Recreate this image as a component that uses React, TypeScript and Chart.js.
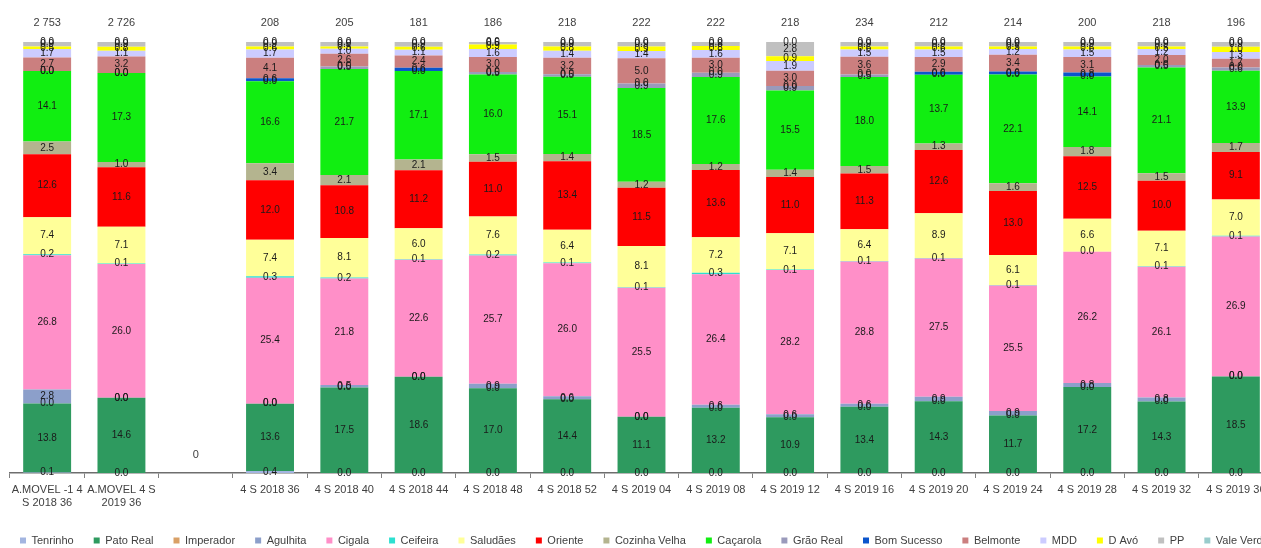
import React, { useEffect, useRef } from "react";
import { Chart, registerables } from "chart.js";

Chart.register(...registerables);

// Period labels (multi-line where the axis wraps them)
const categories: (string | string[])[] = [
  ["A.MOVEL -1 4", "S 2018 36"],
  ["A.MOVEL 4 S", "2019 36"],
  "",
  "4 S 2018 36",
  "4 S 2018 40",
  "4 S 2018 44",
  "4 S 2018 48",
  "4 S 2018 52",
  "4 S 2019 04",
  "4 S 2019 08",
  "4 S 2019 12",
  "4 S 2019 16",
  "4 S 2019 20",
  "4 S 2019 24",
  "4 S 2019 28",
  "4 S 2019 32",
  "4 S 2019 36",
];

// Base totals printed above each column
const totals = [2753, 2726, 0, 208, 205, 181, 186, 218, 222, 222, 218, 234, 212, 214, 200, 218, 196];

// Shares (%) per brand, stacked bottom to top
const tenrinho = [0.1, 0.0, null, 0.4, 0.0, 0.0, 0.0, 0.0, 0.0, 0.0, 0.0, 0.0, 0.0, 0.0, 0.0, 0.0, 0.0];
const patoReal = [13.8, 14.6, null, 13.6, 17.5, 18.6, 17.0, 14.4, 11.1, 13.2, 10.9, 13.4, 14.3, 11.7, 17.2, 14.3, 18.5];
const imperador = [0.0, 0.0, null, 0.0, 0.0, 0.0, 0.0, 0.0, 0.0, 0.0, 0.0, 0.0, 0.0, 0.0, 0.0, 0.0, 0.0];
const agulhita = [2.8, 0.0, null, 0.0, 0.5, 0.0, 0.9, 0.6, 0.0, 0.6, 0.6, 0.6, 0.9, 0.9, 0.8, 0.8, 0.0];
const cigala = [26.8, 26.0, null, 25.4, 21.8, 22.6, 25.7, 26.0, 25.5, 26.4, 28.2, 28.8, 27.5, 25.5, 26.2, 26.1, 26.9];
const ceifeira = [0.2, 0.1, null, 0.3, 0.2, 0.1, 0.2, 0.1, 0.1, 0.3, 0.1, 0.1, 0.1, 0.1, 0.0, 0.1, 0.1];
const saludaes = [7.4, 7.1, null, 7.4, 8.1, 6.0, 7.6, 6.4, 8.1, 7.2, 7.1, 6.4, 8.9, 6.1, 6.6, 7.1, 7.0];
const oriente = [12.6, 11.6, null, 12.0, 10.8, 11.2, 11.0, 13.4, 11.5, 13.6, 11.0, 11.3, 12.6, 13.0, 12.5, 10.0, 9.1];
const cozinhaVelha = [2.5, 1.0, null, 3.4, 2.1, 2.1, 1.5, 1.4, 1.2, 1.2, 1.4, 1.5, 1.3, 1.6, 1.8, 1.5, 1.7];
const cacarola = [14.1, 17.3, null, 16.6, 21.7, 17.1, 16.0, 15.1, 18.5, 17.6, 15.5, 18.0, 13.7, 22.1, 14.1, 21.1, 13.9];
const graoReal = [0.0, 0.0, null, 0.0, 0.5, 0.0, 0.5, 0.5, 0.9, 0.9, 0.9, 0.5, 0.0, 0.0, 0.0, 0.5, 0.6];
const bomSucesso = [0.0, 0.0, null, 0.6, 0.0, 0.6, 0.0, 0.0, 0.0, 0.0, 0.0, 0.0, 0.6, 0.6, 0.8, 0.0, 0.0];
const belmonte = [2.7, 3.2, null, 4.1, 2.6, 2.4, 3.0, 3.2, 5.0, 3.0, 3.0, 3.6, 2.9, 3.4, 3.1, 2.0, 1.7];
const mdd = [1.7, 1.1, null, 1.7, 1.0, 1.1, 1.6, 1.4, 1.4, 1.6, 1.9, 1.5, 1.5, 1.2, 1.5, 1.2, 1.3];
const dAvo = [0.5, 0.8, null, 0.6, 0.5, 0.6, 0.9, 0.8, 0.9, 0.8, 0.9, 0.6, 0.6, 0.5, 0.6, 0.5, 1.0];
const pp = [0.9, 0.9, null, 0.9, 0.9, 0.9, 0.5, 0.9, 0.9, 0.8, 2.8, 0.9, 0.9, 0.9, 0.9, 0.9, 0.9];
const valeVerde = [0.0, 0.0, null, 0.0, 0.0, 0.0, 0.0, 0.0, 0.0, 0.0, 0.0, 0.0, 0.0, 0.0, 0.0, 0.0, 0.0];

const seriesNames = [
  "Tenrinho", "Pato Real", "Imperador", "Agulhita", "Cigala", "Ceifeira", "Saludães", "Oriente",
  "Cozinha Velha", "Caçarola", "Grão Real", "Bom Sucesso", "Belmonte", "MDD", "D Avó", "PP", "Vale Verde",
];
const seriesValues = [
  tenrinho, patoReal, imperador, agulhita, cigala, ceifeira, saludaes, oriente,
  cozinhaVelha, cacarola, graoReal, bomSucesso, belmonte, mdd, dAvo, pp, valeVerde,
];
const seriesColors = [
  "#a3b5e0", "#2e9a5f", "#d9a066", "#8c9fca", "#ff8fc8", "#2de0d0", "#ffff99", "#ff0000",
  "#b4b48f", "#11ee11", "#9a9abb", "#0b55cc", "#cb7f7f", "#ccccff", "#ffff00", "#c0c0c0", "#99cccc",
];

const FONT = "'Liberation Sans', Arial, sans-serif";

// Column sums, so each column is drawn as a 100% stack of its shares
const columnSums = categories.map((_, i) =>
  seriesValues.reduce((s, arr) => s + (arr[i] ?? 0), 0)
);

const formatThousands = (n: number) => String(n).replace(/\B(?=(\d{3})+(?!\d))/g, " ");

// Value label centred in every stacked segment
const segmentLabels = {
  id: "segmentLabels",
  afterDatasetsDraw(chart: Chart) {
    const ctx = chart.ctx;
    ctx.save();
    ctx.font = `10px ${FONT}`;
    ctx.fillStyle = "#1a1a1a";
    ctx.textAlign = "center";
    ctx.textBaseline = "middle";
    chart.data.datasets.forEach((_ds: any, di: number) => {
      const meta = chart.getDatasetMeta(di);
      meta.data.forEach((el: any, i: number) => {
        const raw = seriesValues[di][i];
        if (raw === null || raw === undefined || columnSums[i] === 0) return;
        const { x, y, base } = el.getProps(["x", "y", "base"], true);
        ctx.fillText(raw.toFixed(1), x, (y + base) / 2);
      });
    });
    ctx.restore();
  },
};

// Sample size above each column (or at the floor for an empty one)
const totalLabels = {
  id: "totalLabels",
  afterDatasetsDraw(chart: Chart) {
    const ctx = chart.ctx;
    const xScale = chart.scales.x;
    const area = chart.chartArea;
    ctx.save();
    ctx.font = `11px ${FONT}`;
    ctx.fillStyle = "#404040";
    ctx.textAlign = "center";
    ctx.textBaseline = "middle";
    totals.forEach((t, i) => {
      const x = xScale.getPixelForValue(i);
      const txt = formatThousands(t);
      if (t > 0) ctx.fillText(txt, x, area.top - 19);
      else ctx.fillText(txt, x, area.bottom - 18);
    });
    ctx.restore();
  },
};

const CANVAS_W = 1310;
const CANVAS_H = 556;

export default function App() {
  const canvasRef = useRef<HTMLCanvasElement | null>(null);

  useEffect(() => {
    if (!canvasRef.current) return;
    const datasets = seriesNames.map((name, di) => ({
      label: name,
      data: seriesValues[di].map((v, i) =>
        v === null || columnSums[i] === 0 ? null : (v / columnSums[i]) * 100
      ),
      backgroundColor: seriesColors[di],
      borderWidth: 0,
      categoryPercentage: 1,
      barPercentage: 0.645,
    }));

    const hiddenAxis = (w: number, position: "left" | "right") => ({
      position,
      display: true,
      grid: { display: false, drawTicks: false },
      border: { display: false },
      ticks: { display: false },
      afterFit: (scale: any) => {
        scale.width = w;
      },
    });

    const chart = new Chart(canvasRef.current, {
      type: "bar",
      data: { labels: categories, datasets },
      options: {
        responsive: false,
        animation: false,
        layout: { padding: { top: 42, left: 0, right: 0, bottom: 0 } },
        plugins: {
          legend: {
            position: "bottom",
            align: "start",
            labels: {
              boxWidth: 6,
              boxHeight: 6,
              padding: 20,
              color: "#404040",
              font: { family: FONT, size: 11 },
            },
          },
          tooltip: { enabled: false },
        },
        scales: {
          x: {
            stacked: true,
            grid: {
              display: true,
              drawOnChartArea: false,
              drawTicks: true,
              tickLength: 5,
              color: "#808080",
              offset: true,
            },
            border: { display: true, color: "#6e6e6e", width: 1.5 },
            ticks: {
              autoSkip: false,
              maxRotation: 0,
              minRotation: 0,
              padding: 5,
              color: "#404040",
              font: { family: FONT, size: 11 },
            },
            afterFit: (scale: any) => {
              scale.height = 42;
            },
          },
          y: {
            stacked: true,
            min: 0,
            max: 100,
            ...hiddenAxis(10, "left"),
          },
          yRight: {
            min: 0,
            max: 100,
            ...hiddenAxis(CANVAS_W - 1273, "right"),
          },
        },
      },
      plugins: [segmentLabels, totalLabels],
    });
    return () => chart.destroy();
  }, []);

  return (
    <div
      style={{
        position: "absolute",
        left: 0,
        top: 0,
        width: 1261,
        height: 548,
        overflow: "hidden",
        background: "#ffffff",
      }}
    >
      <canvas ref={canvasRef} width={CANVAS_W} height={CANVAS_H} style={{ display: "block" }} />
    </div>
  );
}
